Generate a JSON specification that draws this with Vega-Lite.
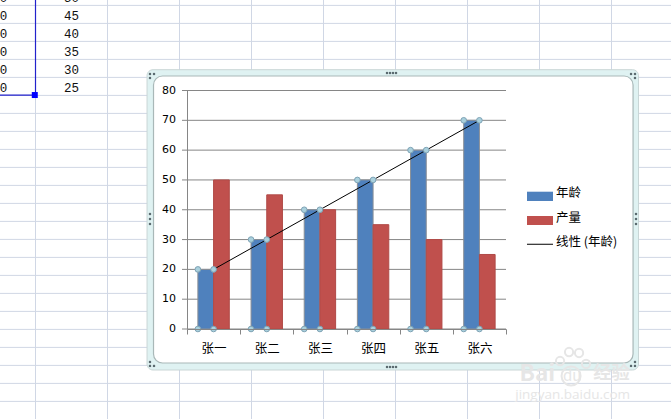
{"$schema":"https://vega.github.io/schema/vega-lite/v6.json","width":319,"height":238.5,"autosize":"none","padding":{"left":187,"top":90.5,"right":165,"bottom":90},"background":"white","config":{"view":{"stroke":null},"font":"Noto Sans CJK SC"},
"datasets":{
"sales":[{"cat":"张一","series":"年龄","value":20},{"cat":"张二","series":"年龄","value":30},{"cat":"张三","series":"年龄","value":40},{"cat":"张四","series":"年龄","value":50},{"cat":"张五","series":"年龄","value":60},{"cat":"张六","series":"年龄","value":70},{"cat":"张一","series":"产量","value":50},{"cat":"张二","series":"产量","value":45},{"cat":"张三","series":"产量","value":40},{"cat":"张四","series":"产量","value":35},{"cat":"张五","series":"产量","value":30},{"cat":"张六","series":"产量","value":25}],
"trend":[{"cat":"张一","trend":20},{"cat":"张六","trend":70}],
"handles":[{"cat":"张一","corner":"L","value":20},{"cat":"张一","corner":"R","value":20},{"cat":"张一","corner":"L","value":0},{"cat":"张一","corner":"R","value":0},{"cat":"张二","corner":"L","value":30},{"cat":"张二","corner":"R","value":30},{"cat":"张二","corner":"L","value":0},{"cat":"张二","corner":"R","value":0},{"cat":"张三","corner":"L","value":40},{"cat":"张三","corner":"R","value":40},{"cat":"张三","corner":"L","value":0},{"cat":"张三","corner":"R","value":0},{"cat":"张四","corner":"L","value":50},{"cat":"张四","corner":"R","value":50},{"cat":"张四","corner":"L","value":0},{"cat":"张四","corner":"R","value":0},{"cat":"张五","corner":"L","value":60},{"cat":"张五","corner":"R","value":60},{"cat":"张五","corner":"L","value":0},{"cat":"张五","corner":"R","value":0},{"cat":"张六","corner":"L","value":70},{"cat":"张六","corner":"R","value":70},{"cat":"张六","corner":"L","value":0},{"cat":"张六","corner":"R","value":0}],
"gridvals":[{"v":0},{"v":10},{"v":20},{"v":30},{"v":40},{"v":50},{"v":60},{"v":70},{"v":80}],
"sheet":[
{"kind":"v","c0":0,"c1":0,"r0":-0.3,"r1":23},{"kind":"v","c0":1,"c1":1,"r0":-0.3,"r1":23},{"kind":"v","c0":2,"c1":2,"r0":-0.3,"r1":23},{"kind":"v","c0":3,"c1":3,"r0":-0.3,"r1":23},{"kind":"v","c0":4,"c1":4,"r0":-0.3,"r1":23},{"kind":"v","c0":5,"c1":5,"r0":-0.3,"r1":23},{"kind":"v","c0":6,"c1":6,"r0":-0.3,"r1":23},{"kind":"v","c0":7,"c1":7,"r0":-0.3,"r1":23},{"kind":"v","c0":8,"c1":8,"r0":-0.3,"r1":23},
{"kind":"h","c0":-0.5,"c1":8.83,"r0":0,"r1":0},{"kind":"h","c0":-0.5,"c1":8.83,"r0":1,"r1":1},{"kind":"h","c0":-0.5,"c1":8.83,"r0":2,"r1":2},{"kind":"h","c0":-0.5,"c1":8.83,"r0":3,"r1":3},{"kind":"h","c0":-0.5,"c1":8.83,"r0":4,"r1":4},{"kind":"h","c0":-0.5,"c1":8.83,"r0":5,"r1":5},{"kind":"h","c0":-0.5,"c1":8.83,"r0":6,"r1":6},{"kind":"h","c0":-0.5,"c1":8.83,"r0":7,"r1":7},{"kind":"h","c0":-0.5,"c1":8.83,"r0":8,"r1":8},{"kind":"h","c0":-0.5,"c1":8.83,"r0":9,"r1":9},{"kind":"h","c0":-0.5,"c1":8.83,"r0":10,"r1":10},{"kind":"h","c0":-0.5,"c1":8.83,"r0":11,"r1":11},{"kind":"h","c0":-0.5,"c1":8.83,"r0":12,"r1":12},{"kind":"h","c0":-0.5,"c1":8.83,"r0":13,"r1":13},{"kind":"h","c0":-0.5,"c1":8.83,"r0":14,"r1":14},{"kind":"h","c0":-0.5,"c1":8.83,"r0":15,"r1":15},{"kind":"h","c0":-0.5,"c1":8.83,"r0":16,"r1":16},{"kind":"h","c0":-0.5,"c1":8.83,"r0":17,"r1":17},{"kind":"h","c0":-0.5,"c1":8.83,"r0":18,"r1":18},{"kind":"h","c0":-0.5,"c1":8.83,"r0":19,"r1":19},{"kind":"h","c0":-0.5,"c1":8.83,"r0":20,"r1":20},{"kind":"h","c0":-0.5,"c1":8.83,"r0":21,"r1":21},{"kind":"h","c0":-0.5,"c1":8.83,"r0":22,"r1":22},
{"kind":"sel","c0":0,"c1":0,"r0":-0.3,"r1":4.98},{"kind":"sel","c0":-0.5,"c1":0,"r0":4.98,"r1":4.98},
{"kind":"selbox","c0":-0.01,"c1":-0.01,"r0":4.98,"r1":4.98},
{"kind":"cell","c0":-0.444,"r0":-0.41,"label":"0"},{"kind":"cell","c0":-0.444,"r0":0.59,"label":"0"},{"kind":"cell","c0":-0.444,"r0":1.59,"label":"0"},{"kind":"cell","c0":-0.444,"r0":2.59,"label":"0"},{"kind":"cell","c0":-0.444,"r0":3.59,"label":"0"},{"kind":"cell","c0":-0.444,"r0":4.59,"label":"0"},
{"kind":"cell","c0":0.5,"r0":-0.41,"label":"50"},{"kind":"cell","c0":0.5,"r0":0.59,"label":"45"},{"kind":"cell","c0":0.5,"r0":1.59,"label":"40"},{"kind":"cell","c0":0.5,"r0":2.59,"label":"35"},{"kind":"cell","c0":0.5,"r0":3.59,"label":"30"},{"kind":"cell","c0":0.5,"r0":4.59,"label":"25"},
{"kind":"outer","c0":1.549,"c1":8.375,"r0":3.572,"r1":20.256},
{"kind":"inner","c0":1.639,"c1":8.299,"r0":3.922,"r1":19.867},
{"kind":"swatch","series":"年龄","c0":6.826,"c1":7.187,"r0":10.35,"r1":10.867},
{"kind":"swatch","series":"产量","c0":6.826,"c1":7.187,"r0":11.7,"r1":12.2},
{"kind":"lgline","c0":6.826,"c1":7.187,"r0":13.27,"r1":13.27},
{"kind":"lgtext","c0":7.229,"r0":10.44,"label":"年龄"},{"kind":"lgtext","c0":7.229,"r0":11.79,"label":"产量"},{"kind":"lgtext","c0":7.229,"r0":13.13,"label":"线性 (年龄)"},
{"kind":"dot","c0":4.882,"r0":3.756},{"kind":"dot","c0":4.924,"r0":3.756},{"kind":"dot","c0":4.965,"r0":3.756},{"kind":"dot","c0":5.007,"r0":3.756},
{"kind":"dot","c0":4.882,"r0":20.089},{"kind":"dot","c0":4.924,"r0":20.089},{"kind":"dot","c0":4.965,"r0":20.089},{"kind":"dot","c0":5.007,"r0":20.089},
{"kind":"dot","c0":1.59,"r0":11.589},{"kind":"dot","c0":1.59,"r0":11.867},{"kind":"dot","c0":1.59,"r0":12.144},
{"kind":"dot","c0":8.34,"r0":11.589},{"kind":"dot","c0":8.34,"r0":11.867},{"kind":"dot","c0":8.34,"r0":12.144},
{"kind":"dot","c0":1.59,"r0":3.811},{"kind":"dot","c0":1.646,"r0":3.811},{"kind":"dot","c0":1.59,"r0":4.033},
{"kind":"dot","c0":8.271,"r0":3.811},{"kind":"dot","c0":8.326,"r0":3.811},{"kind":"dot","c0":8.326,"r0":4.033},
{"kind":"dot","c0":1.59,"r0":19.81},{"kind":"dot","c0":1.59,"r0":20.03},{"kind":"dot","c0":1.646,"r0":20.03},
{"kind":"dot","c0":8.326,"r0":19.81},{"kind":"dot","c0":8.271,"r0":20.03},{"kind":"dot","c0":8.326,"r0":20.03},
{"kind":"paw","c0":7.285,"r0":19.756,"s":90},{"kind":"paw","c0":7.41,"r0":19.256,"s":90},{"kind":"paw","c0":7.549,"r0":19.311,"s":90},{"kind":"paw","c0":7.646,"r0":19.922,"s":90},{"kind":"paw","c0":7.438,"r0":20.589,"s":500},
{"kind":"wm1","c0":6.97,"r0":20.5,"label":"Bai","fs":26},{"kind":"wm1b","c0":7.326,"r0":20.6,"label":"du"},{"kind":"wm1","c0":8.0,"r0":20.5,"label":"经验","fs":20},{"kind":"wm2","c0":7.46,"r0":21.65,"label":"jingyan.baidu.com"}
]},
"resolve":{"scale":{"x":"independent","y":"independent","fill":"independent","size":"independent"}},
"layer":[
{"data":{"name":"sheet"},
"encoding":{"x":{"field":"c0","type":"quantitative","axis":null,"scale":{"domain":[-0.4931,8.826],"range":[-187,484],"nice":false,"zero":false}},"y":{"field":"r0","type":"quantitative","axis":null,"scale":{"domain":[-0.3,22.978],"range":[-90.5,328.5],"nice":false,"zero":false}}},
"layer":[
{"transform":[{"filter":"datum.kind==='v'||datum.kind==='h'"}],"mark":{"type":"rule","color":"#d0d7e5","strokeWidth":1},"encoding":{"x2":{"field":"c1"},"y2":{"field":"r1"}}},
{"transform":[{"filter":"datum.kind==='cell'"}],"mark":{"type":"text","font":"Liberation Mono","fontSize":12.5,"color":"#111111","align":"center","baseline":"middle"},"encoding":{"text":{"field":"label"}}},
{"transform":[{"filter":"datum.kind==='sel'"}],"mark":{"type":"rule","color":"#2222cc","strokeWidth":1.2},"encoding":{"x2":{"field":"c1"},"y2":{"field":"r1"}}},
{"transform":[{"filter":"datum.kind==='selbox'"}],"mark":{"type":"point","shape":"square","filled":true,"size":36,"color":"#0000ff","opacity":1}},
{"transform":[{"filter":"datum.kind==='outer'"}],"mark":{"type":"rect","fill":"#dff2f2","stroke":"#c9d6d6","strokeWidth":1,"cornerRadius":6},"encoding":{"x2":{"field":"c1"},"y2":{"field":"r1"}}},
{"transform":[{"filter":"datum.kind==='inner'"}],"mark":{"type":"rect","fill":"#ffffff","stroke":"#a9b8b8","strokeWidth":1.2,"cornerRadius":9},"encoding":{"x2":{"field":"c1"},"y2":{"field":"r1"}}},
{"transform":[{"filter":"datum.kind==='swatch'"}],"mark":{"type":"rect"},"encoding":{"x2":{"field":"c1"},"y2":{"field":"r1"},"fill":{"field":"series","type":"nominal","legend":null,"scale":{"domain":["年龄","产量"],"range":["#4f81bd","#c0504d"]}}}},
{"transform":[{"filter":"datum.kind==='lgline'"}],"mark":{"type":"rule","color":"#000000","strokeWidth":1},"encoding":{"x2":{"field":"c1"},"y2":{"field":"r1"}}},
{"transform":[{"filter":"datum.kind==='lgtext'"}],"mark":{"type":"text","font":"Noto Sans CJK SC","fontSize":12.5,"color":"#000000","align":"left","baseline":"middle"},"encoding":{"text":{"field":"label"}}},
{"transform":[{"filter":"datum.kind==='dot'"}],"mark":{"type":"point","shape":"square","filled":true,"size":5,"color":"#5b6b70","opacity":1}},
{"transform":[{"filter":"datum.kind==='paw'"}],"mark":{"type":"point","shape":"circle","filled":false,"color":"#e6e6e6","strokeWidth":2,"opacity":1},"encoding":{"size":{"field":"s","type":"quantitative","legend":null,"scale":{"type":"identity"}}}},
{"transform":[{"filter":"datum.kind==='wm1'"}],"mark":{"type":"text","font":"Noto Sans CJK SC","fontWeight":"bold","color":"#e6e6e6","align":"center","baseline":"middle"},"encoding":{"text":{"field":"label"},"size":{"field":"fs","type":"quantitative","legend":null,"scale":{"type":"identity"}}}},
{"transform":[{"filter":"datum.kind==='wm1b'"}],"mark":{"type":"text","font":"Noto Sans CJK SC","fontSize":15,"color":"#e6e6e6","align":"left","baseline":"middle"},"encoding":{"text":{"field":"label"}}},
{"transform":[{"filter":"datum.kind==='wm2'"}],"mark":{"type":"text","font":"Open Sans","fontSize":13.5,"color":"#e6e6e6","align":"center","baseline":"middle"},"encoding":{"text":{"field":"label"}}}
]},
{"resolve":{"scale":{"xOffset":"independent"}},
"layer":[
{"data":{"name":"gridvals"},"mark":{"type":"rule","color":"#868686","strokeWidth":1},"encoding":{"x":{"value":-5},"x2":{"value":319},"y":{"field":"v","type":"quantitative","scale":{"domain":[0,80],"nice":false},"axis":{"title":null,"ticks":false,"labels":false,"grid":false,"zindex":1,"domainColor":"#868686"}}}},
{"data":{"name":"gridvals"},"mark":{"type":"text","font":"DejaVu Sans","fontSize":11,"color":"#000000","align":"right","baseline":"middle","dx":-11},"encoding":{"x":{"value":0},"y":{"field":"v","type":"quantitative"},"text":{"field":"v","type":"quantitative"}}},
{"data":{"name":"sales"},"mark":{"type":"bar"},"encoding":{
"x":{"field":"cat","type":"nominal","sort":["张一","张二","张三","张四","张五","张六"],"scale":{"domain":["张一","张二","张三","张四","张五","张六"],"paddingInner":0,"paddingOuter":0},"axis":{"title":null,"labelAngle":0,"zindex":1,"tickBand":"extent","domainColor":"#868686","tickColor":"#868686","tickSize":5,"labelPadding":8,"labelFont":"Noto Sans CJK SC","labelFontSize":12.5,"labelColor":"#000000","ticks":true}},
"xOffset":{"field":"series","type":"nominal","sort":["年龄","产量"],"scale":{"domain":["年龄","产量"],"paddingInner":0,"paddingOuter":0.693}},
"y":{"field":"value","type":"quantitative"},
"fill":{"field":"series","type":"nominal","scale":{"domain":["年龄","产量"],"range":["#4f81bd","#c0504d"]},"legend":null},
"stroke":{"condition":{"test":"datum.series==='年龄'","value":"#8a8f96"},"value":"#b04a47"}
}},
{"data":{"name":"trend"},"mark":{"type":"line","color":"#000000","strokeWidth":1},"encoding":{"x":{"field":"cat","type":"nominal","sort":["张一","张二","张三","张四","张五","张六"]},"y":{"field":"trend","type":"quantitative"}}},
{"data":{"name":"handles"},"mark":{"type":"point","shape":"circle","filled":true,"size":32,"fill":"#a9d0dd","stroke":"#7fa3b5","strokeWidth":1,"opacity":1},"encoding":{
"x":{"field":"cat","type":"nominal","sort":["张一","张二","张三","张四","张五","张六"]},
"xOffset":{"field":"corner","type":"nominal","scale":{"type":"point","domain":["L","R","E"],"padding":0.693}},
"y":{"field":"value","type":"quantitative"}}}
]}
]}
